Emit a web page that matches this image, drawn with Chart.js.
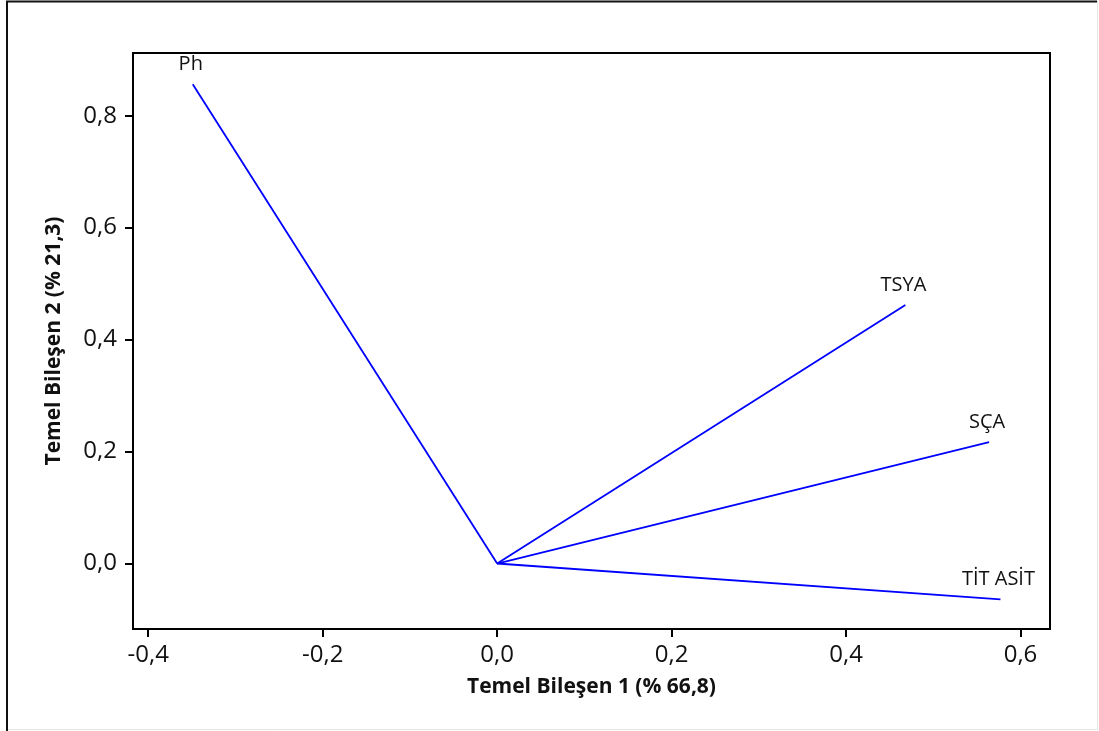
<!DOCTYPE html>
<html>
<head>
<meta charset="utf-8">
<script src="https://cdn.jsdelivr.net/npm/chart.js@4/dist/chart.umd.min.js"></script>
<style>
  html, body { margin: 0; padding: 0; background: #fff; }
  #wrap { width: 1099px; height: 731px; position: relative; }
</style>
</head>
<body>
<div id="wrap"><canvas id="loadingChart" width="1099" height="731"></canvas></div>
<script>
  // Loading vectors (PC1, PC2) for each variable
  const variables = ['Ph', 'TSYA', 'SÇA', 'TİT ASİT'];
  const pc1Loadings = [-0.349, 0.468, 0.564, 0.577];
  const pc2Loadings = [0.856, 0.462, 0.217, -0.064];

  const xTicks = [-0.4, -0.2, 0.0, 0.2, 0.4, 0.6];
  const yTicks = [0.0, 0.2, 0.4, 0.6, 0.8];

  const xTitle = 'Temel Bileşen 1 (% 66,8)';
  const yTitle = 'Temel Bileşen 2 (% 21,3)';

  const FONT = '"Open Sans", "Noto Sans", sans-serif';
  const fmt = v => v.toFixed(1).replace('.', ',');

  // each variable is one segment from the origin to its loading
  const datasets = variables.map((name, i) => ({
    label: name,
    data: [{ x: 0, y: 0 }, { x: pc1Loadings[i], y: pc2Loadings[i] }],
    showLine: true,
    borderColor: '#0000ff',
    borderWidth: 1.8,
    pointRadius: 0,
    fill: false
  }));

  // frame around the page and the plot area, plus the vector labels
  const decorations = {
    id: 'decorations',
    beforeDraw(chart) {
      const c = chart.ctx;
      c.save();
      c.fillStyle = '#fff';
      c.fillRect(0, 0, chart.width, chart.height);
      c.strokeStyle = '#e6e6e6';
      c.lineWidth = 1;
      c.beginPath();
      c.moveTo(1097.5, 1); c.lineTo(1097.5, 729.5); c.lineTo(7, 729.5);
      c.stroke();
      c.strokeStyle = '#111';
      c.lineWidth = 2;
      c.beginPath();
      c.moveTo(7, 731); c.lineTo(7, 1.5); c.lineTo(1097, 1.5);
      c.stroke();
      c.restore();
    },
    afterDatasetsDraw(chart) {
      const c = chart.ctx;
      const a = chart.chartArea;
      const xs = chart.scales.x, ys = chart.scales.y;
      c.save();
      c.fillStyle = '#111';
      c.font = '20px ' + FONT;
      c.textAlign = 'center';
      c.textBaseline = 'alphabetic';
      variables.forEach((name, i) => {
        const px = xs.getPixelForValue(pc1Loadings[i]);
        const py = ys.getPixelForValue(pc2Loadings[i]);
        c.fillText(name, px - 2, py - 14);
      });
      c.strokeStyle = '#000';
      c.lineWidth = 2;
      c.strokeRect(a.left, a.top, a.right - a.left, a.bottom - a.top);
      c.restore();
    }
  };

  new Chart(document.getElementById('loadingChart'), {
    type: 'scatter',
    data: { datasets },
    options: {
      responsive: false,
      animation: false,
      layout: { padding: { top: 53, right: 49, left: 0, bottom: 0 } },
      plugins: { legend: { display: false }, tooltip: { enabled: false } },
      scales: {
        x: {
          type: 'linear',
          min: -0.4175,
          max: 0.6338,
          afterBuildTicks: s => { s.ticks = xTicks.map(v => ({ value: v })); },
          afterFit: s => { s.height = 102; },
          grid: { drawOnChartArea: false, drawTicks: true, tickLength: 8, color: '#000', lineWidth: 2 },
          border: { display: false },
          ticks: {
            color: '#111',
            padding: 4,
            maxRotation: 0,
            font: { family: FONT, size: 24 },
            callback: v => fmt(v)
          },
          title: {
            display: true,
            text: xTitle,
            color: '#111',
            font: { family: FONT, size: 21, weight: 'bold' },
            padding: { top: 0, bottom: 31 }
          }
        },
        y: {
          type: 'linear',
          min: -0.117,
          max: 0.912,
          afterBuildTicks: s => { s.ticks = yTicks.map(v => ({ value: v })); },
          afterFit: s => { s.width = 133; },
          grid: { drawOnChartArea: false, drawTicks: true, tickLength: 8, color: '#000', lineWidth: 2 },
          border: { display: false },
          ticks: {
            color: '#111',
            padding: 8,
            font: { family: FONT, size: 24 },
            callback: v => fmt(v)
          },
          title: {
            display: true,
            text: yTitle,
            color: '#111',
            font: { family: FONT, size: 21, weight: 'bold' },
            padding: { top: 41, bottom: 0 }
          }
        }
      }
    },
    plugins: [decorations]
  });
</script>
</body>
</html>
